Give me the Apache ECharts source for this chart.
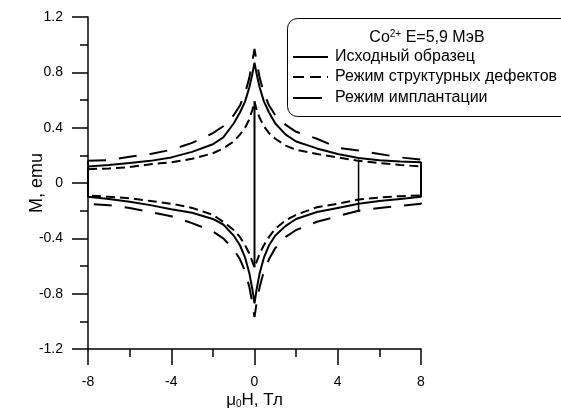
<!DOCTYPE html>
<html><head><meta charset="utf-8">
<script src="https://cdn.jsdelivr.net/npm/echarts/dist/echarts.min.js"></script>
<style>html,body{margin:0;padding:0;background:#fff}#c{width:561px;height:412px}</style>
</head><body><div id="c"></div>
<script>
// Field values, T
const fieldH = [-8,-7,-6,-5,-4,-3,-2,-1.5,-1,-0.7,-0.45,-0.25,-0.1,0,0.1,0.25,0.45,0.7,1,1.5,2,3,4,5,6,7,8];
// Исходный образец (solid)
const initialUpper = [0.12,0.13,0.145,0.16,0.185,0.225,0.28,0.33,0.43,0.51,0.59,0.69,0.79,0.87,0.79,0.69,0.59,0.51,0.43,0.35,0.30,0.25,0.21,0.18,0.165,0.155,0.15];
const initialLower = [-0.10,-0.115,-0.135,-0.16,-0.19,-0.215,-0.26,-0.30,-0.38,-0.45,-0.54,-0.65,-0.77,-0.87,-0.77,-0.65,-0.54,-0.45,-0.38,-0.31,-0.26,-0.21,-0.18,-0.15,-0.13,-0.115,-0.10];
// Режим структурных дефектов (short dash)
const defectsUpper = [0.10,0.105,0.115,0.135,0.15,0.175,0.215,0.25,0.30,0.35,0.40,0.46,0.53,0.59,0.53,0.47,0.41,0.36,0.32,0.27,0.24,0.21,0.185,0.16,0.145,0.13,0.12];
const defectsLower = [-0.09,-0.10,-0.11,-0.13,-0.15,-0.18,-0.23,-0.28,-0.34,-0.39,-0.45,-0.51,-0.57,-0.61,-0.57,-0.51,-0.45,-0.39,-0.33,-0.27,-0.23,-0.175,-0.15,-0.12,-0.105,-0.095,-0.09];
// Режим имплантации (long dash)
const implantUpper = [0.16,0.165,0.19,0.21,0.24,0.29,0.36,0.41,0.49,0.56,0.65,0.76,0.88,0.97,0.88,0.76,0.65,0.56,0.49,0.42,0.37,0.32,0.255,0.235,0.21,0.185,0.17];
const implantLower = [-0.15,-0.16,-0.18,-0.21,-0.24,-0.29,-0.35,-0.40,-0.48,-0.55,-0.64,-0.75,-0.87,-0.97,-0.87,-0.75,-0.64,-0.55,-0.47,-0.39,-0.34,-0.28,-0.24,-0.20,-0.18,-0.165,-0.15];
// vertical jumps
const jumpAt0H = [0, 0];
const jumpAt0M = [0.59, -0.61];
const jumpAt5H = [5, 5];
const jumpAt5M = [0.17, -0.21];
// labels
const legendTitle = 'Co{sup|2+} E=5,9 МэВ';
const seriesNames = ['Исходный образец', 'Режим структурных дефектов', 'Режим имплантации'];
const xName = 'μ{sub|0}H, Тл';
const yName = 'M, emu';

function loop(up, low) {
  const pts = fieldH.map((h, i) => [h, up[i]]);
  for (let i = fieldH.length - 1; i >= 0; i--) pts.push([fieldH[i], low[i]]);
  pts.push([fieldH[0], up[0]]);
  return pts;
}
const FONT = 'Liberation Sans, Arial, sans-serif';
const chart = echarts.init(document.getElementById('c'), null, {renderer: 'canvas'});
const lineBase = {type: 'line', showSymbol: false, symbol: 'none', silent: true, animation: false};
chart.setOption({
  animation: false,
  backgroundColor: '#fff',
  textStyle: {fontFamily: FONT},
  grid: {left: 88, right: 140, top: 17, bottom: 63, containLabel: false, outerBoundsMode: 'none'},
  xAxis: {
    type: 'value', min: -8, max: 8, interval: 4,
    axisLine: {onZero: false, lineStyle: {color: '#000', width: 1.5}},
    axisTick: {length: 16, lineStyle: {color: '#000', width: 1.5}},
    minorTick: {show: true, splitNumber: 2, length: 8, lineStyle: {color: '#000', width: 1.5}},
    splitLine: {show: false},
    axisLabel: {color: '#000', fontSize: 14, margin: 26, fontFamily: FONT},
    name: xName, nameLocation: 'middle', nameGap: 42, nameMoveOverlap: false,
    nameTextStyle: {color: '#000', fontSize: 17, fontFamily: FONT,
      rich: {sub: {fontSize: 10, fontFamily: FONT, color: '#000', padding: [8, 0, 0, 0]}}}
  },
  yAxis: {
    type: 'value', min: -1.2, max: 1.2, interval: 0.4,
    axisLine: {onZero: false, lineStyle: {color: '#000', width: 1.5}},
    axisTick: {length: 16, lineStyle: {color: '#000', width: 1.5}},
    minorTick: {show: true, splitNumber: 2, length: 8, lineStyle: {color: '#000', width: 1.5}},
    splitLine: {show: false},
    axisLabel: {color: '#000', fontSize: 14, margin: 25, fontFamily: FONT},
    name: yName, nameLocation: 'middle', nameGap: 42, nameMoveOverlap: false,
    nameTextStyle: {color: '#000', fontSize: 18, fontFamily: FONT}
  },
  series: [
    Object.assign({}, lineBase, {name: seriesNames[0], data: loop(initialUpper, initialLower), lineStyle: {color: '#000', width: 2}, z: 3}),
    Object.assign({}, lineBase, {name: seriesNames[1], data: loop(defectsUpper, defectsLower), lineStyle: {color: '#000', width: 2, type: [9, 5]}, z: 2}),
    Object.assign({}, lineBase, {name: seriesNames[2], data: loop(implantUpper, implantLower), lineStyle: {color: '#000', width: 2, type: [18, 13]}, z: 2}),
    Object.assign({}, lineBase, {name: 'jump0', data: jumpAt0H.map((h, i) => [h, jumpAt0M[i]]), lineStyle: {color: '#000', width: 2}, z: 3}),
    Object.assign({}, lineBase, {name: 'jump5', data: jumpAt5H.map((h, i) => [h, jumpAt5M[i]]), lineStyle: {color: '#000', width: 1.5}, z: 3})
  ],
  graphic: [
    {type: 'rect', z: 10, shape: {x: 287.5, y: 18.5, width: 300, height: 98, r: 10}, style: {fill: '#fff', stroke: '#000', lineWidth: 1}},
    {type: 'text', z: 11, x: 427, y: 38, style: {text: legendTitle, font: '16px ' + FONT, fill: '#000', align: 'center', verticalAlign: 'middle',
      rich: {sup: {fontSize: 10, fontFamily: FONT, fill: '#000', padding: [0, 0, 8, 0]}}}},
    {type: 'line', z: 11, shape: {x1: 293, y1: 57, x2: 328, y2: 57}, style: {stroke: '#000', lineWidth: 2}},
    {type: 'line', z: 11, shape: {x1: 293, y1: 77, x2: 328, y2: 77}, style: {stroke: '#000', lineWidth: 2, lineDash: [11, 6]}},
    {type: 'line', z: 11, shape: {x1: 293, y1: 98, x2: 322, y2: 98}, style: {stroke: '#000', lineWidth: 2}},
    {type: 'text', z: 11, x: 335, y: 57, style: {text: seriesNames[0], font: '16px ' + FONT, fill: '#000', verticalAlign: 'middle'}},
    {type: 'text', z: 11, x: 335, y: 77, style: {text: seriesNames[1], font: '16px ' + FONT, fill: '#000', verticalAlign: 'middle'}},
    {type: 'text', z: 11, x: 335, y: 98, style: {text: seriesNames[2], font: '16px ' + FONT, fill: '#000', verticalAlign: 'middle'}}
  ]
});
</script>
</body></html>
